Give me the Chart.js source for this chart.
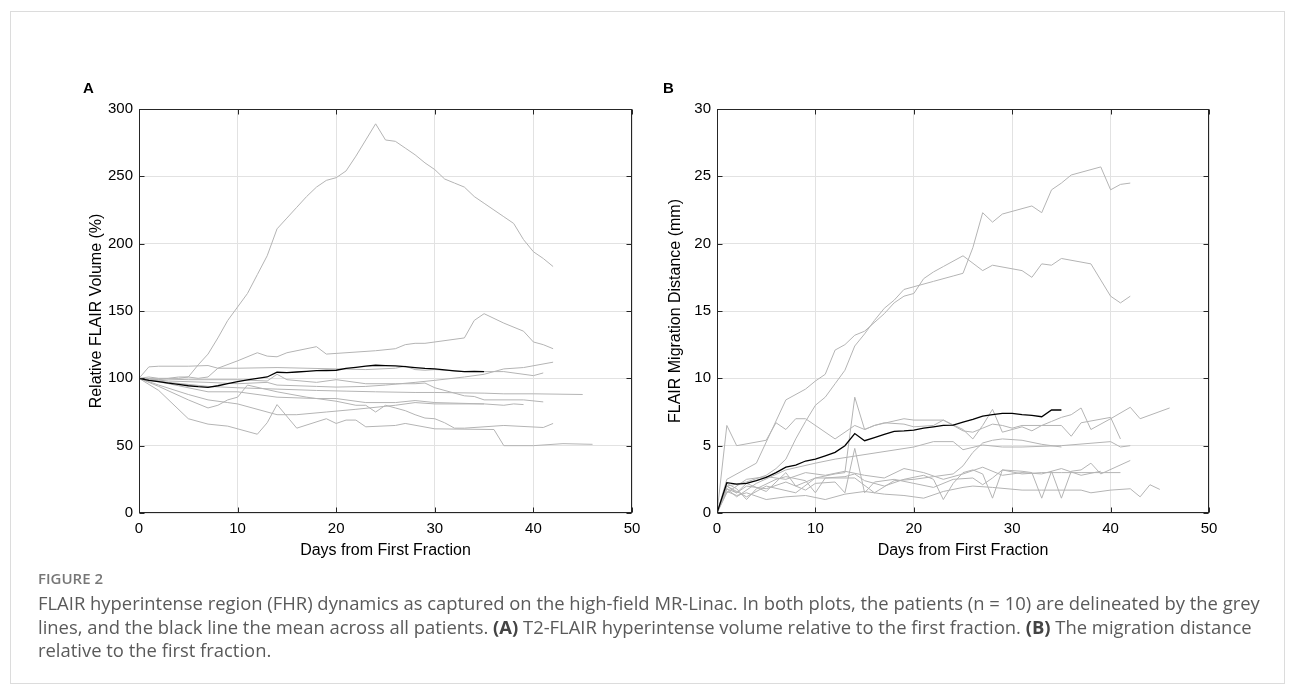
<!DOCTYPE html>
<html>
<head>
<meta charset="utf-8">
<script src="https://cdn.jsdelivr.net/npm/chart.js@4.4.1/dist/chart.umd.min.js"></script>
<style>
  body { margin: 0; background: #fff; }
  #page { position: relative; width: 1295px; height: 693px; overflow: hidden; font-family: "Liberation Sans", Arial, sans-serif; }
  .frame { position: absolute; left: 10px; top: 11px; width: 1273px; height: 671px; border: 1px solid #dcdcdc; }
  canvas.plot { position: absolute; left: 0; top: 0; }
  .panel { position: absolute; font-weight: bold; font-size: 15px; color: #000; }
  #figlabel { position: absolute; left: 38px; top: 568px; font-family: "Open Sans", sans-serif; font-size: 15px; font-weight: 600; color: #777; }
  #caption { position: absolute; left: 38px; top: 591px; font-family: "Open Sans", sans-serif; font-size: 18px; line-height: 23.5px; color: #5a5a5a; white-space: nowrap; }
  #caption b { color: #444; }
</style>
</head>
<body>
<div id="page">
  <div class="frame"></div>
  <canvas id="chartA" class="plot" width="1295" height="693"></canvas>
  <canvas id="chartB" class="plot" width="1295" height="693"></canvas>
  <div class="panel" style="left:83px; top:79px;">A</div>
  <div class="panel" style="left:663px; top:79px;">B</div>
  <div id="figlabel">FIGURE 2</div>
  <div id="caption">
    <div><span id="capLine1">FLAIR hyperintense region (FHR) dynamics as captured on the high-field MR-Linac. In both plots, the patients (n = 10) are delineated by the grey</span></div>
    <div>lines, and the black line the mean across all patients. <b>(A)</b> T2-FLAIR hyperintense volume relative to the first fraction. <b>(B)</b> The migration distance</div>
    <div>relative to the first fraction.</div>
  </div>
</div>
<script>
// Axis ticks
const dayTicks = [0, 10, 20, 30, 40, 50];
const volumeTicks = [0, 50, 100, 150, 200, 250, 300];
const distanceTicks = [0, 5, 10, 15, 20, 25, 30];

// Panel A: relative FLAIR volume (%), [day, value]
const volMean = [[0,100],[1,98.5],[2,97.5],[3,96.5],[4,95.5],[5,94.5],[6,93.8],[7,93.3],[8,94.5],[9,96],[10,97.5],[11,98.8],[12,100],[13,101],[14,104.5],[15,104.3],[16,104.7],[17,105.2],[18,105.7],[19,105.8],[20,106],[21,107.4],[22,108.2],[23,109],[24,109.7],[25,109.5],[26,109.2],[27,108.7],[28,108],[29,107.4],[30,107],[31,106.3],[32,105.6],[33,105],[34,105.2],[35,105]];
const volP1 = [[0,100],[1,101],[2,100],[3,100],[4,100],[5,101],[6,110],[7,118],[8,130],[9,143],[10,153],[11,163],[12,177],[13,191],[14,211],[15,219],[16,227],[17,235],[18,242],[19,247],[20,249],[21,254],[22,265],[23,277],[24,289],[25,277],[26,276],[27,271],[28,266],[29,260],[30,255],[31,248],[32,245],[33,242],[34,235],[35,230],[36,225],[37,220],[38,215],[39,203],[40,194],[41,189],[42,183]];
const volP2 = [[0,100],[1,99.5],[2,99],[3,100],[4,101],[5,101],[6,100],[7,101],[8,107.5],[10,113],[12,119],[13,116.5],[14,116],[15,119],[18,123.5],[19,118],[20,118.5],[24,120.5],[26,122],[27,125],[28,126],[29,126],[30,127],[33,130],[34,143],[35,148],[37,141],[39,135],[40,127],[41,125],[42,122]];
const volP3 = [[0,100],[1,108.5],[2,109],[5,109],[7,109.5],[8,107.5],[10,107.5],[14,108],[20,107],[23,106.5],[26,107.5],[27,109],[28,106.5],[29,106],[30,106.5],[33,105],[35,105],[37,105],[40,102],[41,104]];
const volP4 = [[0,100],[3,98],[7,97],[10,96],[13,97],[14,95],[18,94],[20,93.5],[23,94],[25,95],[28,97],[30,98.5],[33,101],[35,103],[37,107],[39,108],[42,112]];
const volP5 = [[0,100],[5,99],[7,99],[10,99],[13,98],[14,103],[15,99],[18,97],[20,99],[23,96],[26,96],[28,96],[29,96.5],[30,93],[33,87],[34,86.5],[35,84],[39,84],[41,82.5]];
const volP6 = [[0,100],[3,97],[7,94],[10,93],[14,92],[18,91],[21,90.5],[24,90],[28,89.5],[30,89.5],[35,89],[37,88.5],[40,88.5],[45,88]];
const volP7 = [[0,100],[3,96],[7,90],[10,90],[14,86],[18,85],[20,85],[23,82],[26,82],[28,83.5],[30,82],[35,81],[37,80],[38,81],[39,80.5]];
const volP8 = [[0,100],[2,95],[5,88],[7,84],[9,82],[10,81],[14,73],[16,73],[19,75],[22,77],[26,80],[28,82],[30,81],[35,81]];
const volP9 = [[0,100],[2,94],[5,84],[7,78],[8,80],[9,84],[10,86],[11,95],[14,90],[17,86],[20,83],[22,80],[23,80],[24,75],[25,80],[26,78],[27,76],[28,73],[29,70.5],[30,70],[31,67],[32,63],[33,63],[37,65],[41,63.5],[42,66.5]];
const volP10 = [[0,100],[2,91],[5,70],[7,66],[9,64.5],[12,58.5],[13,67],[14,80.5],[16,63],[19,70],[20,66.5],[21,69],[22,69],[23,64],[26,65],[27,66.5],[30,62.5],[36,62],[37,50],[40,50],[43,51.5],[46,51]];

// Panel B: FLAIR migration distance (mm), [day, value]
const migMean = [[0,0],[1,2.25],[2,2.15],[3,2.2],[4,2.4],[5,2.65],[6,3],[7,3.4],[8,3.56],[9,3.86],[10,4],[11,4.25],[12,4.5],[13,5],[14,5.9],[15,5.37],[16,5.6],[17,5.84],[18,6.06],[19,6.1],[20,6.16],[21,6.3],[22,6.4],[23,6.5],[24,6.53],[25,6.75],[26,6.95],[27,7.2],[28,7.3],[29,7.4],[30,7.4],[31,7.3],[32,7.25],[33,7.15],[34,7.65],[35,7.65]];
const migP1 = [[0,0],[1,2.5],[4,3.7],[7,8.4],[9,9.2],[10,9.8],[11,10.3],[12,12.1],[13,12.5],[14,13.2],[15,13.5],[17,14.8],[18,15.6],[19,16.1],[20,16.3],[21,17.4],[22,17.9],[23,18.3],[25,19.1],[27,18],[28,18.4],[31,18],[32,17.5],[33,18.5],[34,18.4],[35,18.9],[38,18.5],[39,17.3],[40,16.1],[41,15.6],[42,16.1]];
const migP2 = [[0,0],[1,2],[3,2.3],[5,2.8],[6,3.3],[7,4],[8,5.5],[9,6.8],[10,8],[11,8.6],[12,9.6],[13,10.6],[14,12.4],[15,13.3],[16,14.3],[17,15.2],[18,15.8],[19,16.6],[20,16.8],[22,17.2],[24,17.6],[25,17.8],[26,19.7],[27,22.3],[28,21.6],[29,22.2],[32,22.8],[33,22.3],[34,24],[35,24.5],[36,25.1],[39,25.7],[40,24],[41,24.4],[42,24.5]];
const migP3 = [[0,0],[1,6.5],[2,5],[5,5.4],[6,6.7],[7,6.2],[8,7],[9,7],[12,5.5],[14,6.5],[15,6.2],[16,6.5],[19,7],[20,6.9],[23,6.9],[25,6.2],[26,5.5],[27,6.5],[28,7.7],[29,6],[31,6.4],[32,6.1],[33,6.5],[34,6.8],[35,7.1],[36,7.3],[37,7.8],[38,6.2],[40,7],[42,7.85],[43,7],[46,7.8]];
const migP4 = [[0,0],[1,2],[2,1.5],[3,2.2],[5,1.6],[7,3],[8,2],[10,2.6],[12,2.9],[13,3],[14,8.6],[15,6.2],[16,6.5],[17,6.7],[19,6.6],[20,6.4],[22,6.5],[23,6.9],[24,6.5],[25,6.1],[26,6],[27,6.3],[28,6.6],[29,6.5],[30,6.3],[31,6.5],[33,6.5],[35,6.5],[36,5.7],[37,6.7],[40,7.1],[41,5.5]];
const migP5 = [[0,0],[1,1.8],[2,1.2],[4,2.2],[7,3.2],[10,3.7],[12,4],[20,4.9],[22,5.3],[24,5.3],[25,4.7],[27,5.05],[29,4.9],[31,4.9],[35,5],[40,5.3],[41,4.9],[42,5]];
const migP6 = [[0,0],[1,2],[3,1.2],[5,2],[8,1.5],[10,2.6],[14,2.6],[16,1.5],[18,2.4],[20,2.5],[22,2.7],[24,2.9],[25,3.5],[26,4.5],[27,5.2],[28,5.4],[29,5.5],[31,5.4],[33,5.1],[35,4.9]];
const migP7 = [[0,0],[1,2.2],[2,1.8],[3,1],[4,1.8],[6,2.5],[7,2.7],[9,2.4],[10,1.5],[11,2.6],[13,2.7],[14,2.9],[15,2.4],[17,2],[19,2.5],[21,2.8],[22,2.5],[23,1],[24,2.2],[25,3],[26,3.2],[27,2.9],[28,1.1],[29,3.2],[31,3.1],[32,3],[33,1.1],[34,3.1],[35,1.1],[36,3.1],[37,3.2],[38,3.7],[39,2.9],[42,3.9]];
const migP8 = [[0,0],[1,1.8],[2,1.5],[3,2],[5,1.8],[7,2.3],[9,1.7],[10,2.2],[12,2.3],[13,1.5],[14,4.8],[15,1.5],[16,2.3],[18,2.5],[20,2.2],[22,1.9],[24,2.5],[26,2.6],[27,2.1],[28,2.6],[29,3.2],[31,2.9],[33,3],[35,3],[37,3],[39,3],[41,3]];
const migP9 = [[0,0],[1,1.6],[2,1.3],[3,1.5],[5,1],[7,1.2],[9,1.3],[11,1],[13,1.4],[15,1.6],[17,1.4],[19,1.3],[21,1.1],[23,1.6],[25,1.9],[26,2],[28,1.9],[31,1.7],[33,1.7],[37,1.7],[38,1.5],[40,1.7],[42,1.8],[43,1.2],[44,2.1],[45,1.75]];
const migP10 = [[0,0],[1,1.5],[3,2.5],[5,2.7],[7,2.5],[9,3],[11,2.8],[13,3.1],[15,2.8],[17,2.6],[19,3.3],[21,3],[23,2.5],[25,2.9],[27,3.4],[29,2.8],[31,3],[33,2.9],[35,3.3],[37,2.8],[39,3.1]];

const volPatients = [volP1, volP2, volP3, volP4, volP5, volP6, volP7, volP8, volP9, volP10];
const migPatients = [migP1, migP2, migP3, migP4, migP5, migP6, migP7, migP8, migP9, migP10];

const GREY = "#b4b4b4";
const AXIS = "#262626";

// Caption: size the text so the first line spans the same width as in the figure
(function fitCaption() {
  const span = document.getElementById("capLine1");
  const target = 1223;
  const cap = document.getElementById("caption");
  const fs = parseFloat(getComputedStyle(cap).fontSize);
  const w = span.getBoundingClientRect().width;
  if (w > 0) cap.style.fontSize = (fs * target / w).toFixed(2) + "px";
})();

// Box round the plot area, with MATLAB-style inward ticks on all sides
const boxPlugin = {
  id: "boxPlugin",
  afterDraw(chart) {
    const { ctx, chartArea: a, scales } = chart;
    const L = Math.round(a.left) + 0.5, R = Math.round(a.right) - 0.5;
    const T = Math.round(a.top) + 0.5, B = Math.round(a.bottom) - 0.5;
    ctx.save();
    ctx.strokeStyle = AXIS;
    ctx.lineWidth = 1;
    ctx.beginPath();
    scales.x.ticks.forEach((t) => {
      const px = Math.round(scales.x.getPixelForValue(t.value)) + 0.5;
      ctx.moveTo(px, B); ctx.lineTo(px, B - 5);
      ctx.moveTo(px, T); ctx.lineTo(px, T + 5);
    });
    scales.y.ticks.forEach((t) => {
      const py = Math.round(scales.y.getPixelForValue(t.value)) + 0.5;
      ctx.moveTo(L, py); ctx.lineTo(L + 5, py);
      ctx.moveTo(R, py); ctx.lineTo(R - 5, py);
    });
    ctx.stroke();
    ctx.strokeRect(L, T, R - L, B - T);
    ctx.restore();
  },
};

function toPoints(series) {
  return series.map((p) => ({ x: p[0], y: p[1] }));
}

function makePanel(id, patients, mean, yTicks, yTitle, padLeft, yWidth, padRight) {
  const datasets = [
    { data: toPoints(mean), borderColor: "#000", borderWidth: 1.3 },
  ].concat(patients.map((s) => ({ data: toPoints(s), borderColor: GREY, borderWidth: 1 })));

  new Chart(document.getElementById(id), {
    type: "line",
    data: { datasets: datasets },
    options: {
      responsive: false,
      animation: false,
      events: [],
      layout: { padding: { left: padLeft, right: padRight, top: 109, bottom: 133 } },
      elements: { point: { radius: 0 }, line: { tension: 0 } },
      plugins: { legend: { display: false }, tooltip: { enabled: false } },
      scales: {
        x: {
          type: "linear",
          min: dayTicks[0],
          max: dayTicks[dayTicks.length - 1],
          afterBuildTicks: (s) => { s.ticks = dayTicks.map((v) => ({ value: v })); },
          afterFit: (s) => { s.height = 47; },
          ticks: { font: { family: "Liberation Sans", size: 15 }, color: "#000", padding: 7, maxRotation: 0 },
          grid: { color: "#e2e2e2", drawTicks: false },
          border: { display: false },
          title: { display: true, text: "Days from First Fraction", font: { family: "Liberation Sans", size: 16 }, color: "#000", padding: 0 },
        },
        y: {
          type: "linear",
          min: yTicks[0],
          max: yTicks[yTicks.length - 1],
          afterBuildTicks: (s) => { s.ticks = yTicks.map((v) => ({ value: v })); },
          afterFit: (s) => { s.width = yWidth; },
          ticks: { font: { family: "Liberation Sans", size: 15 }, color: "#000", padding: 6 },
          grid: { color: "#e2e2e2", drawTicks: false },
          border: { display: false },
          title: { display: true, text: yTitle, font: { family: "Liberation Sans", size: 16 }, color: "#000", padding: 0 },
        },
      },
    },
    plugins: [boxPlugin],
  });
}

makePanel("chartA", volPatients, volMean, volumeTicks, "Relative FLAIR Volume (%)", 87, 52, 663);
makePanel("chartB", migPatients, migMean, distanceTicks, "FLAIR Migration Distance (mm)", 666, 51, 86);
</script>
</body>
</html>
